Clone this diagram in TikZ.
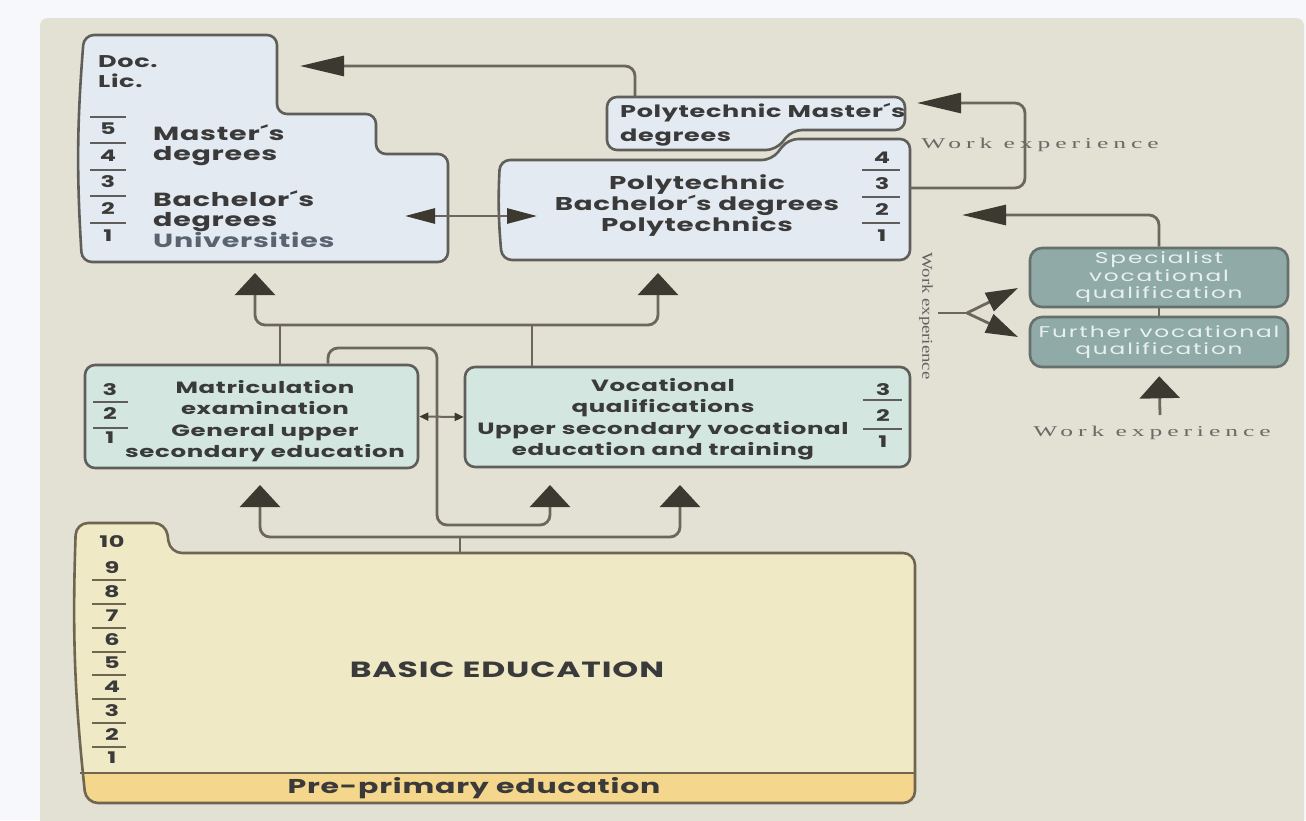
\documentclass[tikz,border=0pt]{standalone}
\usepackage{fontspec}
\setmainfont{Poppins}[FakeStretch=1.5,LetterSpace=4]
\newfontfamily\tealfont{Poppins}[FakeStretch=1.5,LetterSpace=12]
\newfontfamily\workfont{Liberation Serif}[FakeStretch=1.7,LetterSpace=33]
\newfontfamily\worknarrow{Liberation Serif}[FakeStretch=1.25]
\usetikzlibrary{arrows.meta,positioning}

\definecolor{pagebg}{HTML}{F6F8FB}
\definecolor{panelbg}{HTML}{E3E0D4}
\definecolor{unifill}{HTML}{E4EAF1}
\definecolor{secfill}{HTML}{D3E6E0}
\definecolor{basicfill}{HTML}{F0E9C6}
\definecolor{prefill}{HTML}{F4D68C}
\definecolor{tealfill}{HTML}{8FAAA7}
\definecolor{tealedge}{HTML}{66716E}
\definecolor{tealtext}{HTML}{E9F1EF}
\definecolor{edge}{HTML}{5F5E5A}
\definecolor{basicedge}{HTML}{6E6650}
\definecolor{linkcol}{HTML}{6B675D}
\definecolor{tipcol}{HTML}{3C3931}
\definecolor{txt}{HTML}{3A3A3A}
\definecolor{unitxt}{HTML}{5A6470}
\definecolor{wtxtcol}{HTML}{6A6A66}

\tikzset{
  box/.style={draw=edge, line width=2.6pt, rounded corners=10pt},
  link/.style={draw=linkcol, line width=2.8pt, rounded corners=10pt},
  tick/.style={draw=edge, line width=1.3pt},
  upto/.style={-{Triangle[length=22pt,width=40pt,color=tipcol]}},
  upboth/.style={{Triangle[length=22pt,width=40pt,color=tipcol]}-{Triangle[length=22pt,width=40pt,color=tipcol]}},
  sideto/.style={-{Triangle[length=44pt,width=20pt,color=tipcol]}},
  sideboth/.style={{Triangle[length=30pt,width=15pt,color=tipcol]}-{Triangle[length=30pt,width=15pt,color=tipcol]}},
  smallboth/.style={{Triangle[length=9pt,width=8pt,color=tipcol]}-{Triangle[length=9pt,width=8pt,color=tipcol]}},
  forkto/.style={-{Triangle[length=32pt,width=20pt,color=tipcol]}},
  num/.style={font=\fontsize{16}{16}\selectfont\bfseries, text=txt, inner sep=0pt},
  txtc/.style={font=\fontsize{16.3}{21.5}\selectfont\bfseries, text=txt, align=center, inner sep=0pt},
  txtl/.style={font=\fontsize{19}{20}\selectfont\bfseries, text=txt, align=left, anchor=west, inner sep=0pt},
  bigtxt/.style={font=\fontsize{20}{20}\selectfont\bfseries, text=txt, inner sep=0pt},
  qualbox/.style={draw=tealedge, fill=tealfill, line width=2.6pt, rounded corners=12pt,
    font=\tealfont\fontsize{15.5}{17.5}\selectfont, text=tealtext, align=center, inner sep=0pt},
  worktxt/.style={font=\workfont\fontsize{15}{15}\selectfont, text=wtxtcol, inner sep=0pt}
}

\begin{document}
\begin{tikzpicture}[x=1pt,y=-1pt]
\useasboundingbox (0,0) rectangle (1306,820);

% Background
\fill[pagebg] (0,0) rectangle (1306,820);
\fill[panelbg, rounded corners=8pt] (40,18) rectangle (1304,840);

% Universities
\draw[box, fill=unifill] (150,35) -- (277,35) -- (277,114) -- (376,114) -- (376,154) -- (448,154)
  -- (448,262) -- (82,262) to[bend left=4] (84,35) -- cycle;
\foreach \y in {117,143,170,196,223} \draw[tick] (90,\y) -- (126,\y);
\foreach \n/\y in {5/129,4/156,3/182,2/209,1/236} \node[num] (u\n) at (108,\y) {\n};
\node[txtl, font=\fontsize{17}{20}\selectfont\bfseries] (doc) at (98,72) {Doc.\\Lic.};
\node[txtl] (umast) at (153,145) {Master´s\\degrees};
\node[txtl] (ubach) at (153,219) {Bachelor´s\\degrees\\\color{unitxt}Universities};

% Polytechnic Master's degrees
\draw[box, fill=unifill] (700,97) -- (905,97) -- (905,130) -- (792,130) -- (776,150) -- (607,150)
  -- (607,97) -- cycle;
\node[txtl, font=\fontsize{17}{24}\selectfont\bfseries] (pmast) at (620,125) {Polytechnic Master´s\\degrees};

% Polytechnic Bachelor's degrees
\draw[box, fill=unifill] (600,160) -- (772,160) -- (788,139) -- (910,139) -- (910,260) -- (502,260)
  to[bend left=4] (500,160) -- cycle;
\foreach \y in {170,197,223} \draw[tick] (862,\y) -- (900,\y);
\foreach \n/\y in {4/158,3/184,2/210,1/236} \node[num] (p\n) at (882,\y) {\n};
\node[txtc, font=\fontsize{18.5}{21}\selectfont\bfseries] (pbach) at (697,206) {Polytechnic\\Bachelor´s degrees\\Polytechnics};

% links on top level
\coordinate (pmtop) at (635,97);
\coordinate (docin) at (300,66);
\draw[link, sideto] (pmtop) |- (docin);
\coordinate (uniR) at (405,216);
\coordinate (polL) at (537,216);
\draw[link, sideboth] (uniR) -- (polL);
\coordinate (pbR) at (910,188);
\coordinate (pmR) at (917,103);
\draw[link, sideto] (pbR) -- (1025,188) -- (1025,103) -- (pmR);
\node[worktxt] (wtop) at (1040,145) {Work experience};

% Specialist and further qualifications
\node[qualbox, minimum width=258pt, minimum height=59pt] (spec) at (1159,277.5) {Specialist\\vocational\\qualification};
\node[qualbox, minimum width=258pt, minimum height=50pt] (further) at (1159,342) {Further vocational\\qualification};
\draw[link] (spec) -- (further);
\coordinate (polR) at (962,215);
\draw[link, sideto] (spec.north) |- (polR);
\node[worktxt, font=\worknarrow\fontsize{15}{15}\selectfont, text=txt!80, rotate=-90] (wside) at (926,316) {Work experience};
\coordinate (wfork) at (938,313);
\coordinate (fork) at (967,313);
\coordinate (specin) at (1018,288);
\coordinate (furtherin) at (1018,337);
\draw[link] (wfork) -- (fork);
\draw[link, forkto] (fork) -- (specin);
\draw[link, forkto] (fork) -- (furtherin);
\node[worktxt] (wbot) at (1152,433) {Work experience};
\coordinate (wbotup) at (1160,415);
\draw[link, upto, shorten >=8pt] (wbotup) -- (further.south);

% Matriculation examination
\node[box, fill=secfill, minimum width=333pt, minimum height=103pt] (matric) at (251.5,416.5) {};
\foreach \y in {402,428} \draw[tick] (93,\y) -- (128,\y);
\foreach \n/\y in {3/390,2/414,1/438} \node[num] (m\n) at (110,\y) {\n};
\node[txtc] (matrictxt) at (265,421) {Matriculation\\examination\\General upper\\secondary education};

% Vocational qualifications
\node[box, fill=secfill, minimum width=445pt, minimum height=100pt] (voc) at (687.5,417) {};
\foreach \y in {400,429} \draw[tick] (863,\y) -- (902,\y);
\foreach \n/\y in {3/390,2/416,1/442} \node[num] (v\n) at (883,\y) {\n};
\node[txtc] (voctxt) at (663,419) {Vocational\\qualifications\\Upper secondary vocational\\education and training};

\draw[link, line width=2pt, smallboth] (matric.east) -- (voc.west);
\draw[link, upto] (328,0 |- matric.north) -- (328,348) -- (437,348) -- (437,525) -- (550,525) -- (550,485);

% links to higher education
\draw[link, upboth] (255,273) -- (255,325) -- (658,325) -- (658,273);
\draw[link] (280,0 |- matric.north) -- (280,325);
\draw[link] (532,0 |- voc.north) -- (532,325);

% Basic education
\path[rounded corners=12pt, save path=\basicpath] (120,523) -- (166,523) -- (170,553) -- (915,553)
  -- (915,803) -- (86,803) to[bend left=4] (76,523) -- cycle;
\begin{scope}
  \clip[use path=\basicpath];
  \fill[basicfill] (40,500) rectangle (960,773);
  \fill[prefill] (40,773) rectangle (960,820);
\end{scope}
\draw[basicedge, line width=2.6pt, use path=\basicpath];
\draw[basicedge, line width=2.6pt] (80,773) -- (915,773);
\node[num] (b10) at (112,542) {10};
\foreach \y in {580,604,628,652,675,699,723,747} \draw[tick, draw=basicedge] (92,\y) -- (126,\y);
\foreach \n/\y in {9/568,8/592,7/616,6/640,5/663,4/687,3/711,2/735,1/758} \node[num] (b\n) at (112,\y) {\n};
\node[bigtxt, font=\fontsize{22}{22}\selectfont\bfseries] (basic) at (507,670) {BASIC EDUCATION};
\node[bigtxt] (pre) at (474,788) {Pre-primary education};
\coordinate (basictop) at (460,553);
\draw[link, upboth] (260,485) -- (260,537) -- (680,537) -- (680,485);
\draw[link] (basictop) -- (460,537);

\end{tikzpicture}
\end{document}
